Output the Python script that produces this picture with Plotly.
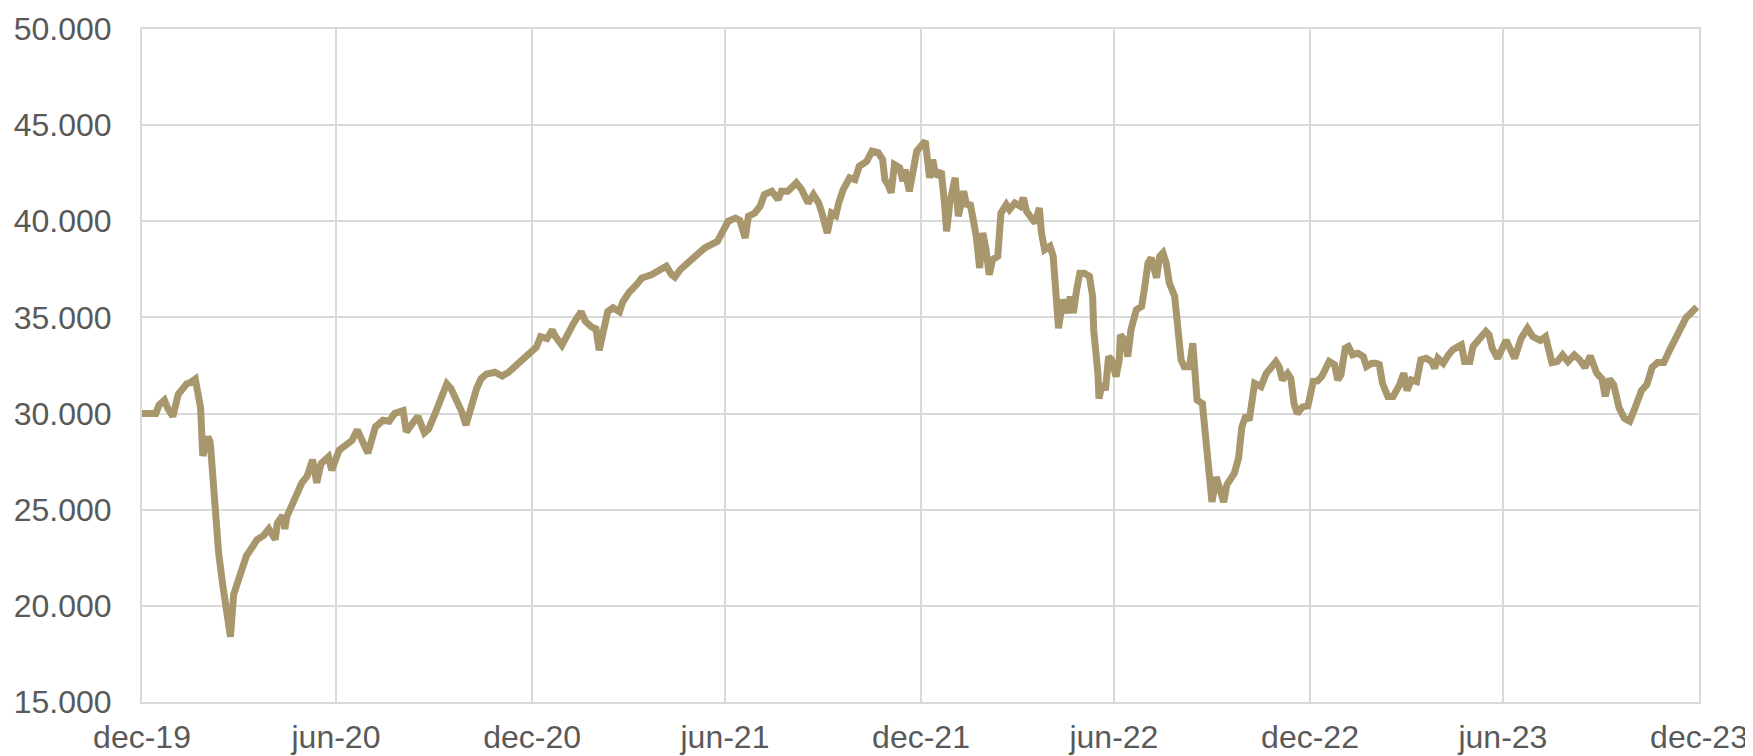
import plotly.graph_objects as go

dates = [
    "2019-12-31", "2020-01-07", "2020-01-13", "2020-01-16", "2020-01-21", "2020-01-24", "2020-01-29",
    "2020-02-03", "2020-02-07", "2020-02-11", "2020-02-14", "2020-02-19", "2020-02-24", "2020-02-26",
    "2020-03-02", "2020-03-04", "2020-03-05", "2020-03-09", "2020-03-12", "2020-03-16", "2020-03-19",
    "2020-03-23", "2020-03-26", "2020-03-30", "2020-04-03", "2020-04-07", "2020-04-13", "2020-04-17",
    "2020-04-23", "2020-04-28", "2020-05-04", "2020-05-06", "2020-05-11", "2020-05-13", "2020-05-15",
    "2020-05-20", "2020-05-25", "2020-05-29", "2020-06-03", "2020-06-08", "2020-06-12", "2020-06-16",
    "2020-06-23", "2020-06-26", "2020-07-03", "2020-07-10", "2020-07-15", "2020-07-20", "2020-07-24",
    "2020-07-30", "2020-08-06", "2020-08-13", "2020-08-19", "2020-08-24", "2020-09-01", "2020-09-04",
    "2020-09-10", "2020-09-15", "2020-09-21", "2020-09-25", "2020-10-01", "2020-10-06", "2020-10-12",
    "2020-10-16", "2020-10-21", "2020-10-26", "2020-10-30", "2020-11-04", "2020-11-09", "2020-11-13",
    "2020-11-18", "2020-11-26", "2020-12-03", "2020-12-09", "2020-12-15", "2020-12-21", "2020-12-28",
    "2021-01-04", "2021-01-08", "2021-01-14", "2021-01-19", "2021-01-22", "2021-01-28", "2021-02-04",
    "2021-02-08", "2021-02-15", "2021-02-19", "2021-02-25", "2021-03-01", "2021-03-04", "2021-03-09",
    "2021-03-12", "2021-03-17", "2021-03-23", "2021-03-26", "2021-04-01", "2021-04-08", "2021-04-13",
    "2021-04-22", "2021-04-29", "2021-05-06", "2021-05-11", "2021-05-14", "2021-05-19", "2021-05-25",
    "2021-06-02", "2021-06-11", "2021-06-17", "2021-06-23", "2021-06-28", "2021-07-03", "2021-07-10",
    "2021-07-14", "2021-07-19", "2021-07-22", "2021-07-28", "2021-08-02", "2021-08-06", "2021-08-13",
    "2021-08-19", "2021-08-22", "2021-08-28", "2021-09-05", "2021-09-10", "2021-09-16", "2021-09-21",
    "2021-09-26", "2021-09-29", "2021-10-04", "2021-10-08", "2021-10-12", "2021-10-15", "2021-10-19",
    "2021-10-25", "2021-10-30", "2021-11-03", "2021-11-10", "2021-11-15", "2021-11-21", "2021-11-25",
    "2021-11-27", "2021-11-30", "2021-12-03", "2021-12-06", "2021-12-11", "2021-12-14", "2021-12-16",
    "2021-12-20", "2021-12-24", "2021-12-27", "2021-12-31", "2022-01-04", "2022-01-08", "2022-01-11",
    "2022-01-14", "2022-01-19", "2022-01-22", "2022-01-24", "2022-01-27", "2022-02-01", "2022-02-04",
    "2022-02-09", "2022-02-12", "2022-02-15", "2022-02-18", "2022-02-21", "2022-02-24", "2022-02-27",
    "2022-03-02", "2022-03-05", "2022-03-08", "2022-03-13", "2022-03-16", "2022-03-21", "2022-03-24",
    "2022-03-29", "2022-04-03", "2022-04-06", "2022-04-09", "2022-04-14", "2022-04-17", "2022-04-21",
    "2022-04-23", "2022-04-26", "2022-05-01", "2022-05-04", "2022-05-07", "2022-05-09", "2022-05-13",
    "2022-05-18", "2022-05-20", "2022-05-23", "2022-05-26", "2022-05-29", "2022-06-02", "2022-06-07",
    "2022-06-10", "2022-06-11", "2022-06-15", "2022-06-16", "2022-06-19", "2022-06-22", "2022-06-25",
    "2022-06-28", "2022-07-02", "2022-07-05", "2022-07-06", "2022-07-10", "2022-07-13", "2022-07-16",
    "2022-07-21", "2022-07-26", "2022-07-29", "2022-08-01", "2022-08-04", "2022-08-09", "2022-08-12",
    "2022-08-15", "2022-08-18", "2022-08-21", "2022-08-26", "2022-08-29", "2022-09-01", "2022-09-04",
    "2022-09-09", "2022-09-12", "2022-09-15", "2022-09-16", "2022-09-21", "2022-09-23", "2022-09-26",
    "2022-09-28", "2022-09-30", "2022-10-04", "2022-10-07", "2022-10-11", "2022-10-14", "2022-10-18",
    "2022-10-21", "2022-10-25", "2022-10-28", "2022-11-01", "2022-11-04", "2022-11-09", "2022-11-15",
    "2022-11-20", "2022-11-25", "2022-11-29", "2022-12-02", "2022-12-05", "2022-12-10", "2022-12-13",
    "2022-12-16", "2022-12-19", "2022-12-24", "2022-12-29", "2023-01-03", "2023-01-07", "2023-01-11",
    "2023-01-14", "2023-01-18", "2023-01-23", "2023-01-26", "2023-01-29", "2023-02-02", "2023-02-05",
    "2023-02-09", "2023-02-14", "2023-02-19", "2023-02-22", "2023-02-27", "2023-03-03", "2023-03-06",
    "2023-03-09", "2023-03-14", "2023-03-19", "2023-03-22", "2023-03-25", "2023-03-29", "2023-04-01",
    "2023-04-05", "2023-04-10", "2023-04-14", "2023-04-19", "2023-04-24", "2023-04-27", "2023-04-30",
    "2023-05-05", "2023-05-10", "2023-05-14", "2023-05-19", "2023-05-22", "2023-05-25", "2023-05-30",
    "2023-06-02", "2023-06-08", "2023-06-14", "2023-06-17", "2023-06-20", "2023-06-25", "2023-07-03",
    "2023-07-11", "2023-07-17", "2023-07-23", "2023-07-28", "2023-08-04", "2023-08-09", "2023-08-15",
    "2023-08-20", "2023-08-25", "2023-08-30", "2023-09-05", "2023-09-10", "2023-09-15", "2023-09-20",
    "2023-09-26", "2023-10-01", "2023-10-04", "2023-10-08", "2023-10-12", "2023-10-17", "2023-10-22",
    "2023-10-27", "2023-11-01", "2023-11-07", "2023-11-12", "2023-11-17", "2023-11-22", "2023-11-28",
    "2023-12-03", "2023-12-08", "2023-12-13", "2023-12-19", "2023-12-22", "2023-12-29",
]

values = [
    30000, 30000, 30000, 30450, 30700, 30300, 29850,
    31000, 31250, 31550, 31600, 31800, 30300, 27800,
    28800, 28500, 27800, 24800, 22700, 21000, 19800,
    18400, 20600, 21300, 21800, 22600, 23100, 23450,
    23650, 24000, 23450, 24300, 24700, 24000, 24650,
    25300, 25900, 26400, 26750, 27600, 26400, 27400,
    27750, 27050, 28100, 28350, 28600, 29150, 28600,
    27950, 29300, 29650, 29600, 30000, 30150, 29050,
    29500, 29850, 29000, 29200, 30000, 30700, 31550,
    31300, 30700, 30100, 29400, 30400, 31300, 31800,
    32050, 32150, 31950, 32150, 32400, 32750, 33100,
    33450, 34000, 33900, 34350, 34000, 33550, 34350,
    34700, 35300, 34800, 34500, 34400, 33300, 34700,
    35300, 35500, 35300, 35800, 36300, 36700, 37050,
    37220, 37400, 37660, 37220, 37100, 37480, 37830,
    38180, 38610, 38780, 38960, 39480, 40000, 40170,
    40050, 39130, 40260, 40430, 40780, 41390, 41560,
    41130, 41560, 41560, 42000, 41650, 40950, 41390,
    40950, 40430, 39390, 40430, 40300, 41000, 41650,
    42260, 42170, 42860, 43120, 43650, 43560, 43210,
    42170, 41910, 41480, 42950, 42780, 42080, 42690,
    41560, 42950, 43650, 43910, 44170, 42260, 43210,
    42340, 42600, 40950, 39480, 40950, 42260, 40260,
    41560, 40780, 40950, 40090, 39130, 37570, 39390,
    38520, 37220, 38000, 38180, 40430, 40870, 40610,
    40950, 40780, 41220, 40520, 40090, 39910, 40690,
    39390, 38520, 38700, 38180, 36090, 34440, 35920,
    35230, 36090, 35230, 36440, 37300, 37300, 37140,
    36100, 34360, 32090, 30780, 31570, 31220, 32960,
    32790, 31920, 32790, 34090, 33830, 32960, 34360,
    35400, 35570, 36620, 37840, 38100, 37060, 38190,
    38360, 37840, 36790, 36100, 34360, 32790, 32440,
    32440, 33660, 31920, 30700, 30520, 29300, 28200,
    27000, 25400, 26700, 26000, 25400, 26300, 26700,
    26900, 27700, 29300, 29910, 29650, 31570, 31400,
    32090, 32440, 32700, 32440, 31750, 32090, 31830,
    30520, 30000, 30350, 30400, 31670, 31700, 31930,
    32270, 32710, 32540, 31750, 32010, 33400, 33490,
    33060, 33140, 32970, 32450, 32620, 32620, 32550,
    31580, 30890, 30890, 31150, 31490, 32100, 31200,
    31750, 31670, 32800, 32880, 32710, 32360, 32880,
    32620, 33060, 33320, 33490, 33580, 32710, 32710,
    33490, 33920, 34270, 34100, 33400, 32870, 33820,
    32870, 33900, 34430, 34000, 33800, 34000, 32650,
    32700, 33050, 32700, 33050, 32800, 32400, 33000,
    32100, 31800, 30900, 31800, 31500, 30300, 29750,
    29600, 30300, 31200, 31500, 32400, 32650, 32650,
    33250, 33800, 34400, 35000, 35150, 35550,
]

y_ticks = [15000, 20000, 25000, 30000, 35000, 40000, 45000, 50000]
x_tick_dates = ["2019-12-31", "2020-06-30", "2020-12-31", "2021-06-30", "2021-12-31",
                "2022-06-30", "2022-12-31", "2023-06-30", "2023-12-31"]
x_tick_labels = ["dec-19", "jun-20", "dec-20", "jun-21", "dec-21",
                 "jun-22", "dec-22", "jun-23", "dec-23"]

LINE = "#A8976C"
GRID = "#D9D9D9"
TXT = "#595959"
FONT = "Arial, Liberation Sans, sans-serif"

fig = go.Figure()
fig.add_trace(go.Scatter(
    x=dates, y=values, mode="lines",
    line=dict(color=LINE, width=7, shape="linear"),
    showlegend=False, hoverinfo="x+y",
))

# the page body adds an 8px margin, so the figure is sized to fill the rest
fig.update_layout(
    width=1745, height=748,
    margin=dict(l=134, r=54, t=21, b=54, autoexpand=False),
    paper_bgcolor="white", plot_bgcolor="white",
    separators=",.",
    font=dict(family=FONT, size=32, color=TXT),
    showlegend=False,
)
fig.update_xaxes(
    type="date", automargin=False,
    range=[x_tick_dates[0], x_tick_dates[-1]],
    tickmode="array", tickvals=x_tick_dates, ticktext=x_tick_labels,
    showgrid=True, gridcolor=GRID, gridwidth=2,
    showline=True, linecolor=GRID, linewidth=2, mirror=True,
    ticks="", ticklabelstandoff=6,
    tickfont=dict(family=FONT, size=32, color=TXT),
    zeroline=False,
)
fig.update_yaxes(
    automargin=False,
    range=[y_ticks[0], y_ticks[-1]],
    tickmode="array", tickvals=y_ticks, tickformat=",d",
    showgrid=True, gridcolor=GRID, gridwidth=2,
    showline=True, linecolor=GRID, linewidth=2, mirror=True,
    ticks="", ticklabelstandoff=22,
    tickfont=dict(family=FONT, size=32, color=TXT),
    zeroline=False,
)

fig.write_html("out.html")
